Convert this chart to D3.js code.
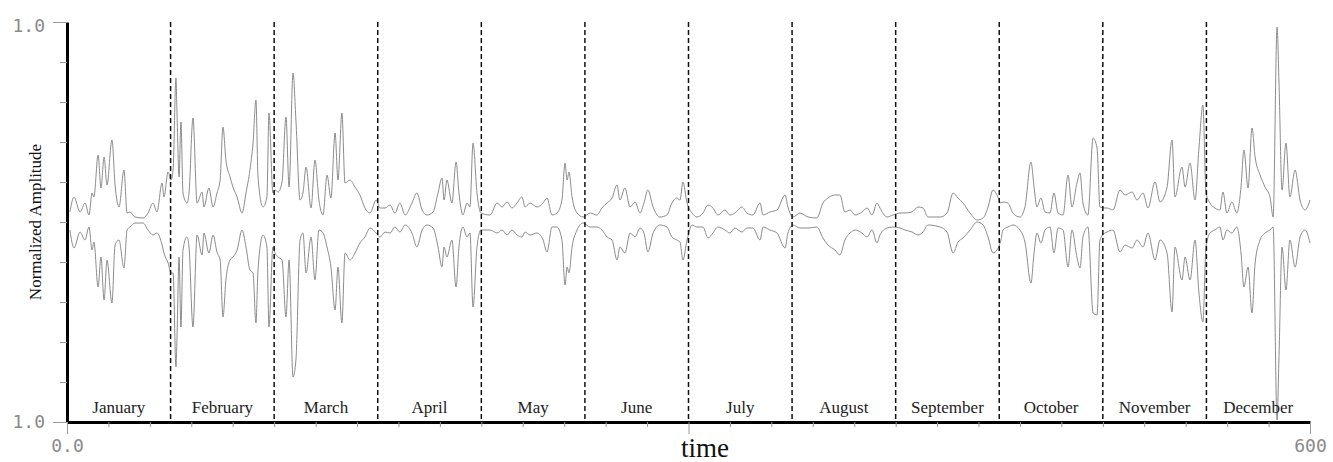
<!DOCTYPE html>
<html lang="en">
<head>
    <meta charset="UTF-8">
    <title>Normalized Amplitude over time</title>
    <script src="https://d3js.org/d3.v7.min.js"></script>
    <style>
        body { margin: 0; background: white; }
        .month { font-family: "Liberation Serif", "Times New Roman", serif; font-size: 17px; fill: #222; }
        .mono { font-family: "DejaVu Sans Mono", "Liberation Mono", monospace; font-size: 18px; fill: #8a8a8a; }
        .signal { fill: none; stroke: #8c8c8c; stroke-width: 1; }
    </style>
</head>
<body>
<svg width="1333" height="462"></svg>
<script>
    var months = ["January", "February", "March", "April", "May", "June",
                  "July", "August", "September", "October", "November", "December"];
    var monthStarts = [0, 50, 100, 150, 200, 250, 300, 350, 400, 450, 500, 550];
    var yTicks = [-1, -0.8, -0.6, -0.4, -0.2, 0, 0.2, 0.4, 0.6, 0.8, 1];
    var xTicks = d3.range(0, 601, 20);

    // sample times (same units as the time axis)
    var timePts = [
        1.4,3.4,6.3,8.7,10.6,12.1,13.0,15.0,16.4,17.9,19.3,21.7,23.2,25.1,27.5,29.0,30.4,32.8,36.7,39.1,41.5,43.4,45.9,46.8,48.8,50.2,
        51.2,52.6,53.1,54.1,55.0,56.0,57.9,58.9,60.8,62.8,65.2,66.1,68.5,70.5,72.4,73.9,75.3,76.7,78.7,80.1,82.1,84.5,86.4,88.3,89.8,91.2,92.2,94.6,96.5,97.5,99.4,100.4,
        101.9,103.8,105.7,107.2,109.1,110.5,112.5,113.9,115.4,117.8,119.7,121.6,123.6,125.5,127.4,129.4,130.8,132.7,134.2,136.6,139.0,141.4,143.8,146.3,149.2,151.1,
        153.5,155.9,158.3,160.7,163.2,166.5,168.9,171.4,173.8,176.7,179.1,181.0,182.0,183.4,185.8,187.8,189.2,191.1,193.1,194.5,196.0,197.9,199.8,
        204.2,207.6,210.0,212.4,214.8,217.2,219.6,221.1,223.5,226.9,229.8,231.7,234.1,236.5,238.9,240.4,241.4,242.3,243.8,246.2,249.1,
        252.5,255.8,258.2,260.7,263.1,265.5,266.9,269.3,271.8,274.2,276.6,278.5,280.4,282.9,286.2,289.6,292.0,294.4,295.9,297.3,299.3,
        301.7,304.1,307.0,309.4,311.8,314.2,317.6,320.0,322.4,325.8,328.2,331.1,334.5,336.0,339.3,342.7,346.6,348.0,350.4,
        353.8,357.7,362.0,364.9,367.3,370.7,373.1,375.5,378.0,380.4,383.7,386.2,388.6,391.0,392.4,395.8,398.7,402.1,
        404.5,407.9,410.8,413.2,415.6,421.4,424.8,427.7,430.1,432.5,435.9,439.3,442.2,444.6,447.0,448.9,450.8,
        451.8,454.2,456.6,460.0,462.4,465.3,466.8,468.2,470.1,472.1,474.5,476.4,478.4,480.8,483.2,485.1,487.5,489.0,490.4,492.8,495.3,497.2,498.6,501.0,
        502.0,504.9,508.3,510.7,514.1,516.5,519.4,521.8,525.2,527.6,531.0,533.4,534.8,538.2,539.7,542.1,544.5,546.4,548.3,549.8,
        551.7,554.1,556.5,558.0,559.9,562.3,564.7,566.7,568.1,570.1,572.0,573.5,575.9,578.3,580.7,582.2,584.1,585.0,586.5,588.4,590.3,592.8,595.2,597.6,600.0
    ];

    var upperAmp = [
        .05,.125,.05,.095,.035,.145,.125,.335,.17,.325,.185,.41,.185,.075,.26,.045,.05,.025,.02,.045,.095,.05,.195,.125,.25,.21,
        .26,.72,.545,.225,.5,.145,.095,.145,.52,.095,.15,.075,.17,.075,.145,.21,.475,.31,.225,.175,.125,.045,.145,.26,.395,.61,.225,.075,.125,.545,.145,.16,
        .15,.2,.525,.175,.745,.51,.11,.145,.275,.07,.31,.11,.035,.235,.12,.445,.21,.545,.195,.21,.175,.135,.07,.045,.11,.07,
        .07,.085,.045,.095,.035,.095,.145,.06,.035,.05,.145,.22,.11,.21,.095,.3,.145,.035,.095,.075,.395,.145,.045,
        .035,.095,.075,.1,.07,.095,.125,.075,.095,.075,.095,.12,.035,.045,.11,.295,.21,.25,.125,.045,.025,
        .045,.035,.07,.095,.12,.185,.11,.17,.075,.1,.045,.095,.16,.075,.025,.035,.095,.12,.11,.2,.095,
        .045,.025,.045,.085,.07,.035,.06,.035,.045,.075,.045,.035,.095,.035,.05,.06,.135,.075,.025,
        .045,.025,.02,.095,.12,.135,.135,.05,.06,.035,.05,.07,.035,.095,.07,.025,.035,.045,
        .045,.05,.075,.07,.025,.025,.045,.145,.12,.095,.045,.01,.02,.075,.16,.135,.095,
        .1,.095,.045,.025,.075,.3,.175,.075,.12,.05,.045,.145,.045,.035,.235,.075,.195,.245,.095,.035,.42,.37,.075,.07,
        .07,.06,.16,.135,.15,.11,.145,.07,.2,.1,.175,.41,.125,.275,.175,.295,.11,.37,.585,.145,
        .095,.07,.06,.15,.045,.1,.045,.175,.36,.17,.47,.325,.235,.175,.125,.025,.975,.71,.16,.395,.125,.26,.11,.06,.11
    ];

    var lowerAmp = [
        -.04,-.13,-.05,-.09,-.025,-.14,-.1,-.325,-.175,-.39,-.19,-.405,-.115,-.09,-.23,-.04,-.025,-.005,-.005,-.04,-.065,-.055,-.115,-.155,-.205,-.255,
        -.255,-.725,-.575,-.175,-.525,-.14,-.075,-.125,-.525,-.065,-.165,-.055,-.155,-.065,-.15,-.19,-.475,-.29,-.19,-.175,-.14,-.04,-.125,-.24,-.255,-.505,-.24,-.065,-.125,-.525,-.125,-.155,
        -.175,-.19,-.475,-.19,-.775,-.69,-.09,-.055,-.255,-.075,-.29,-.04,-.055,-.125,-.225,-.44,-.225,-.505,-.155,-.19,-.155,-.105,-.075,-.03,-.055,-.075,
        -.05,-.055,-.025,-.05,-.015,-.055,-.125,-.04,-.015,-.03,-.125,-.225,-.125,-.175,-.09,-.325,-.125,-.025,-.075,-.055,-.425,-.125,-.04,
        -.04,-.055,-.04,-.065,-.04,-.065,-.075,-.05,-.065,-.055,-.09,-.15,-.025,-.025,-.09,-.315,-.225,-.255,-.125,-.04,-.005,
        -.025,-.025,-.04,-.075,-.09,-.19,-.125,-.155,-.055,-.075,-.03,-.055,-.15,-.055,-.015,-.025,-.075,-.09,-.1,-.19,-.09,
        -.015,-.025,-.025,-.08,-.055,-.025,-.04,-.055,-.03,-.05,-.03,-.03,-.09,-.025,-.04,-.055,-.13,-.055,-.015,
        -.03,-.03,-.025,-.08,-.115,-.14,-.165,-.09,-.055,-.04,-.055,-.075,-.04,-.105,-.065,-.03,-.025,-.03,
        -.04,-.05,-.065,-.05,-.015,-.025,-.05,-.155,-.1,-.08,-.04,0,-.015,-.075,-.155,-.14,-.09,
        -.04,-.025,-.015,-.04,-.1,-.305,-.155,-.055,-.105,-.04,-.025,-.155,-.03,-.04,-.225,-.04,-.175,-.23,-.075,-.025,-.455,-.465,-.09,-.055,
        -.05,-.04,-.15,-.115,-.13,-.09,-.125,-.055,-.19,-.09,-.155,-.45,-.125,-.29,-.175,-.29,-.09,-.355,-.5,-.125,
        -.055,-.04,-.025,-.09,-.04,-.055,-.025,-.155,-.325,-.225,-.455,-.205,-.09,-.055,-.04,-.025,-.99,-.69,-.125,-.34,-.09,-.225,-.075,-.04,-.105
    ];

    var svg = d3.select("svg");
    var plotLeft = 67, plotRight = 1310, plotTop = 22, plotBottom = 422;

    var x = d3.scaleLinear().domain([0, 600]).range([plotLeft, plotRight]);
    var y = d3.scaleLinear().domain([-1, 1]).range([plotBottom, plotTop]);

    // signal envelopes
    var line = function(vals) {
        return d3.line()
            .x(function(d, i) { return x(timePts[i]); })
            .y(function(d) { return y(d); })
            .curve(d3.curveMonotoneX)(vals);
    };
    svg.append("path").attr("class", "signal").attr("d", line(upperAmp));
    svg.append("path").attr("class", "signal").attr("d", line(lowerAmp));

    // month separators
    svg.selectAll(".sep")
        .data(monthStarts.slice(1))
        .enter().append("line")
        .attr("class", "sep")
        .attr("x1", function(d) { return x(d); })
        .attr("x2", function(d) { return x(d); })
        .attr("y1", plotTop)
        .attr("y2", plotBottom)
        .attr("stroke", "#111")
        .attr("stroke-width", 1.5)
        .attr("stroke-dasharray", "5,3");

    // month names
    svg.selectAll(".month")
        .data(months)
        .enter().append("text")
        .attr("class", "month")
        .attr("x", function(d, i) { return x(monthStarts[i] + 25); })
        .attr("y", 413)
        .attr("text-anchor", "middle")
        .text(function(d) { return d; });

    // y axis
    var yAxis = svg.append("g")
        .attr("transform", "translate(" + plotLeft + ",0)")
        .call(d3.axisLeft(y).tickValues(yTicks).tickSizeInner(7).tickSizeOuter(0)
            .tickFormat(function(d) { return Math.abs(d) === 1 ? "1.0" : ""; }));
    yAxis.select(".domain").attr("stroke", "#000").attr("stroke-width", 3);
    yAxis.selectAll(".tick line").attr("stroke", "#999")
        .attr("x2", function(d) { return Math.abs(d) === 1 ? -14 : -7; });
    yAxis.selectAll(".tick text").attr("class", "mono").attr("x", -22)
        .attr("dy", function(d) { return d === 1 ? "0.55em" : "0.32em"; });

    // x axis
    var xAxis = svg.append("g")
        .attr("transform", "translate(0," + plotBottom + ")")
        .call(d3.axisBottom(x).tickValues(xTicks).tickSizeInner(5).tickSizeOuter(0)
            .tickFormat(function(d) { return d === 0 ? "0.0" : (d === 600 ? "600" : ""); }));
    xAxis.select(".domain").attr("stroke", "#000").attr("stroke-width", 3);
    xAxis.selectAll(".tick line").attr("stroke", "#999")
        .attr("y2", function(d) { return d % 300 === 0 ? 12 : 5; });
    xAxis.selectAll(".tick text").attr("class", "mono").attr("y", 17);

    // axis titles
    svg.append("text")
        .attr("x", 705)
        .attr("y", 457)
        .attr("text-anchor", "middle")
        .style("font-family", "'Liberation Serif', serif")
        .style("font-size", "27px")
        .style("fill", "#111")
        .text("time");

    svg.append("text")
        .attr("transform", "translate(41,222) rotate(-90)")
        .attr("text-anchor", "middle")
        .style("font-family", "'Liberation Serif', serif")
        .style("font-size", "17px")
        .style("fill", "#111")
        .text("Normalized Amplitude");
</script>
</body>
</html>
